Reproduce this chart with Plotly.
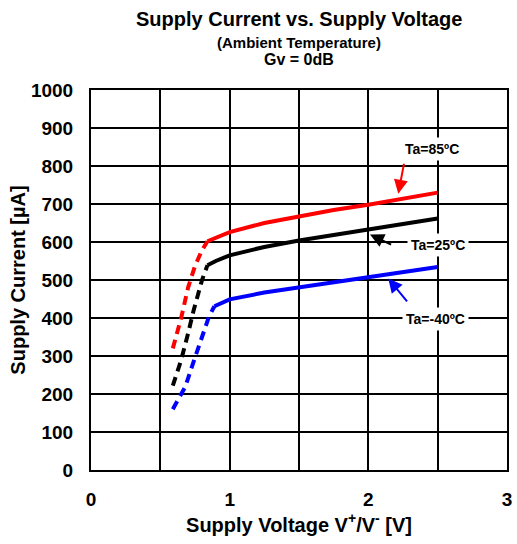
import plotly.graph_objects as go

# ---- data ----
red_dash_x = [0.59, 0.65, 0.70, 0.75, 0.80, 0.84]
red_dash_y = [320, 400, 480, 537, 578, 602]
red_solid_x = [0.84, 0.90, 1.00, 1.25, 1.50, 1.75, 2.00, 2.25, 2.50]
red_solid_y = [602, 612, 626, 650, 668, 684, 698, 714, 730]

blk_dash_x = [0.59, 0.65, 0.70, 0.74, 0.80, 0.84]
blk_dash_y = [222, 289, 359, 420, 499, 539]
blk_solid_x = [0.84, 0.90, 1.00, 1.25, 1.50, 1.75, 2.00, 2.25, 2.50]
blk_solid_y = [539, 550, 565, 587, 604, 618, 632, 647, 662]

blu_dash_x = [0.59, 0.68, 0.74, 0.80, 0.85, 0.89]
blu_dash_y = [160, 219, 285, 350, 403, 431]
blu_solid_x = [0.89, 1.00, 1.25, 1.50, 1.75, 2.00, 2.25, 2.50]
blu_solid_y = [431, 449, 467, 480, 495, 508, 521, 534]

x_tickvals = [0, 0.5, 1, 1.5, 2, 2.5, 3]
x_ticktext = ["0", "", "1", "", "2", "", "3"]
y_tickvals = list(range(0, 1001, 100))

labels = ["Ta=85ºC", "Ta=25ºC", "Ta=-40ºC"]
label_pos = [(2.462, 845), (2.502, 591), (2.484, 397)]
arrows = [((2.259, 810), (2.216, 727)),
          ((2.175, 591), (2.012, 620)),
          ((2.288, 440), (2.144, 504))]
colors = ["#FF0000", "#000000", "#0000FF"]

FONT = "Arial, 'Liberation Sans', sans-serif"

fig = go.Figure()
series = [(red_dash_x, red_dash_y, red_solid_x, red_solid_y),
          (blk_dash_x, blk_dash_y, blk_solid_x, blk_solid_y),
          (blu_dash_x, blu_dash_y, blu_solid_x, blu_solid_y)]
for (dx, dy, sx, sy), c in zip(series, colors):
    fig.add_trace(go.Scatter(x=dx, y=dy, mode="lines",
                             line=dict(color=c, width=4, dash="9px,6px"),
                             showlegend=False, hoverinfo="skip"))
    fig.add_trace(go.Scatter(x=sx, y=sy, mode="lines",
                             line=dict(color=c, width=4),
                             showlegend=False, hoverinfo="skip"))

for (tail, head), c in zip(arrows, colors):
    fig.add_annotation(x=head[0], y=head[1], ax=tail[0], ay=tail[1],
                       xref="x", yref="y", axref="x", ayref="y",
                       text="", showarrow=True, arrowhead=2, arrowsize=1.4,
                       arrowwidth=2, arrowcolor=c)
for t, (lx, ly) in zip(labels, label_pos):
    fig.add_annotation(x=lx, y=ly, xref="x", yref="y", text="<b>%s</b>" % t,
                       showarrow=False, bgcolor="white", borderpad=3,
                       font=dict(family=FONT, size=14, color="black"))

fig.add_annotation(x=0.5, y=1.0, xref="paper", yref="paper", yshift=71.5,
                   text="<b>Supply Current vs. Supply Voltage</b>",
                   showarrow=False, yanchor="middle",
                   font=dict(family=FONT, size=20, color="black"))
fig.add_annotation(x=0.5, y=1.0, xref="paper", yref="paper", yshift=48,
                   text="<b>(Ambient Temperature)</b>",
                   showarrow=False, yanchor="middle",
                   font=dict(family=FONT, size=15, color="black"))
fig.add_annotation(x=0.5, y=1.0, xref="paper", yref="paper", yshift=31,
                   text="<b>Gv = 0dB</b>",
                   showarrow=False, yanchor="middle",
                   font=dict(family=FONT, size=16, color="black"))

fig.update_layout(
    width=517, height=544,
    margin=dict(l=91, r=10, t=90, b=74),
    paper_bgcolor="white", plot_bgcolor="white",
    font=dict(family=FONT, color="black"),
)
fig.update_xaxes(range=[0, 3], tickvals=x_tickvals, ticktext=x_ticktext,
                 showgrid=True, gridcolor="black", gridwidth=1.5,
                 showline=True, linecolor="black", linewidth=2, mirror=True,
                 ticks="", zeroline=False, automargin=False,
                 ticklabelstandoff=11,
                 tickfont=dict(family=FONT, size=19, color="black", weight="bold"),
                 title=dict(text="<b>Supply Voltage V<sup>+</sup>/V<sup>-</sup> [V]</b>",
                            font=dict(family=FONT, size=20, color="black"),
                            standoff=9))
fig.update_yaxes(range=[0, 1000], tickvals=y_tickvals,
                 showgrid=True, gridcolor="black", gridwidth=1.5,
                 showline=True, linecolor="black", linewidth=2, mirror=True,
                 ticks="", zeroline=False, automargin=False,
                 ticklabelstandoff=12,
                 tickfont=dict(family=FONT, size=19, color="black", weight="bold"),
                 title=dict(text="<b>Supply Current [µA]</b>",
                            font=dict(family=FONT, size=20, color="black"),
                            standoff=0))

fig.write_html("out.html")
